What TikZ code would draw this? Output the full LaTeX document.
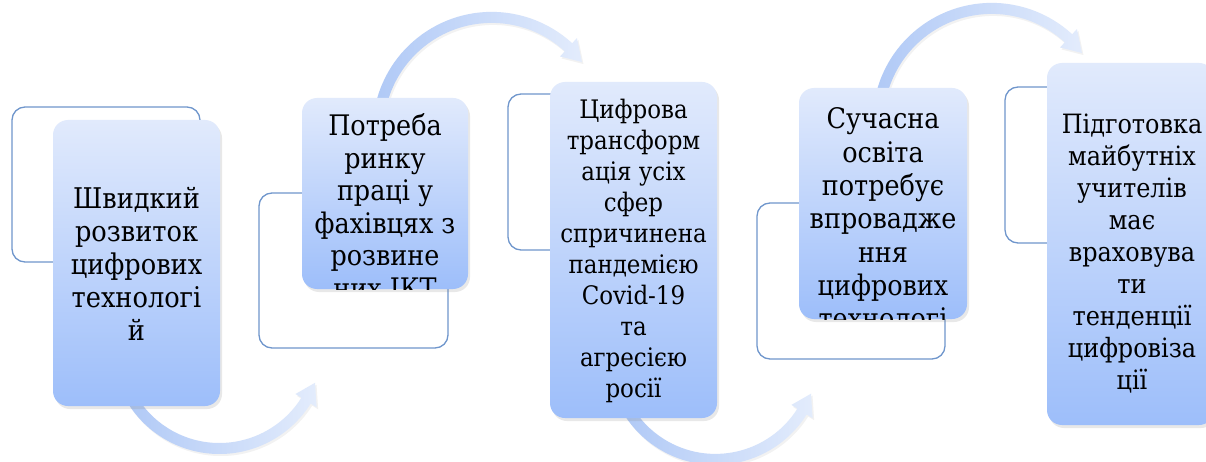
\documentclass[tikz,border=0pt]{standalone}
\usepackage{fontspec}
\setmainfont{DejaVu Serif Condensed}
\newfontfamily\stepfont{DejaVu Serif Condensed}
\usetikzlibrary{shadows,calc}

\definecolor{boxtop}{HTML}{E1EAFC}
\definecolor{boxbot}{HTML}{9DBEFA}
\definecolor{frameblue}{HTML}{6F96CC}
\definecolor{bandlight}{HTML}{E3ECFC}
\definecolor{banddark}{HTML}{B0C9F6}

\tikzset{
  mainbox/.style={rectangle, rounded corners=15pt, top color=boxtop, bottom color=boxbot,
    draw=none, inner sep=0pt,
    drop shadow={shadow xshift=2pt, shadow yshift=-3pt, opacity=0.18}},
  framebox/.style={rectangle, rounded corners=13pt, draw=frameblue, line width=1.3pt,
    inner sep=0pt},
  boxtext/.style 2 args={align=center, text=black, inner sep=0pt,
    font=\stepfont\fontsize{#1}{#2}\selectfont},
  band/.style={left color=banddark, right color=bandlight,
    drop shadow={shadow xshift=1.5pt, shadow yshift=-2pt, opacity=0.1}},
}

% curved band arrow around a centre: #1 centre, #2 radius, #3 start angle, #4 tip angle
\newcommand\bandarrow[4]{%
  \pgfmathsetmacro\bhead{#4-sign(#4-#3)*deg(20/#2)}%
  \pgfmathsetlengthmacro\rout{#2+5.5}%
  \pgfmathsetlengthmacro\rin{#2-5.5}%
  \pgfmathsetlengthmacro\hout{#2+12.5}%
  \pgfmathsetlengthmacro\hin{#2-12.5}%
  \pgfmathsetlengthmacro\rmid{#2}%
  \shade[band] ([shift={(#3:\rout)}]#1) arc[start angle=#3, end angle=\bhead, radius=\rout]
    -- ([shift={(\bhead:\hout)}]#1) -- ([shift={(#4:\rmid)}]#1)
    -- ([shift={(\bhead:\hin)}]#1) -- ([shift={(\bhead:\rin)}]#1)
    arc[start angle=\bhead, end angle=#3, radius=\rin] -- cycle;
}

\begin{document}
\begin{tikzpicture}[x=1pt, y=1pt]
\clip (0,0) rectangle (1206,461);
\fill[white] (0,0) rectangle (1206,461);

% centres of the curved arrows
\coordinate (c12) at (219.4,114.9);
\coordinate (c23) at (491.7,330);
\coordinate (c34) at (715.4,104);
\coordinate (c45) at (991.7,339);

\bandarrow{c12}{102.4}{210}{339}
\bandarrow{c23}{113.6}{168}{37.4}
\bandarrow{c34}{102.4}{210}{339}
\bandarrow{c45}{113.6}{168}{37.4}

% outlined back frames
\node[framebox, minimum width=188pt, minimum height=155pt] (o1) at (106,276.5) {};
\node[framebox, minimum width=189pt, minimum height=155pt] (o2) at (353.5,190.5) {};
\node[framebox, minimum width=189pt, minimum height=156pt] (o3) at (602.5,289) {};
\node[framebox, minimum width=188pt, minimum height=156pt] (o4) at (851,180) {};
\node[framebox, minimum width=189pt, minimum height=156pt] (o5) at (1099.5,296) {};

% shaded step boxes
\node[mainbox, minimum width=167pt, minimum height=286pt] (b1) at (136.5,198) {};
\node[mainbox, minimum width=166pt, minimum height=191pt] (b2) at (385,267.5) {};
\node[mainbox, minimum width=167pt, minimum height=336pt] (b3) at (633.5,211) {};
\node[mainbox, minimum width=168pt, minimum height=231pt] (b4) at (883,257.5) {};
\node[mainbox, minimum width=167pt, minimum height=362pt] (b5) at (1130.5,217) {};

% texts, cut off at the box edges
\begin{scope}
  \clip[rounded corners=15pt] (b1.south west) rectangle (b1.north east);
  \node[boxtext={28.5}{33}] (t1) at (136.5,197) {Швидкий\\розвиток\\цифрових\\технологі\\й};
\end{scope}
\begin{scope}
  \clip[rounded corners=15pt] (b2.south west) rectangle (b2.north east);
  \node[boxtext={28.3}{32.5}] (t2) at (385,255) {Потреба\\ринку\\праці у\\фахівцях з\\розвине\\них ІКТ};
\end{scope}
\begin{scope}
  \clip[rounded corners=15pt] (b3.south west) rectangle (b3.north east);
  \node[boxtext={25.5}{31}] (t3) at (633.5,210) {Цифрова\\трансформ\\ація усіх\\сфер\\спричинена\\пандемією\\Covid-19\\та\\агресією\\росії};
\end{scope}
\begin{scope}
  \clip[rounded corners=15pt] (b4.south west) rectangle (b4.north east);
  \node[boxtext={28.3}{33.3}] (t4) at (883,226) {Сучасна\\освіта\\потребує\\впровадже\\ння\\цифрових\\технологі\\й};
\end{scope}
\begin{scope}
  \clip[rounded corners=15pt] (b5.south west) rectangle (b5.north east);
  \node[boxtext={26.6}{32}] (t5) at (1132,207) {Підготовка\\майбутніх\\учителів\\має\\враховува\\ти\\тенденції\\цифровіза\\ції};
\end{scope}
\end{tikzpicture}
\end{document}
